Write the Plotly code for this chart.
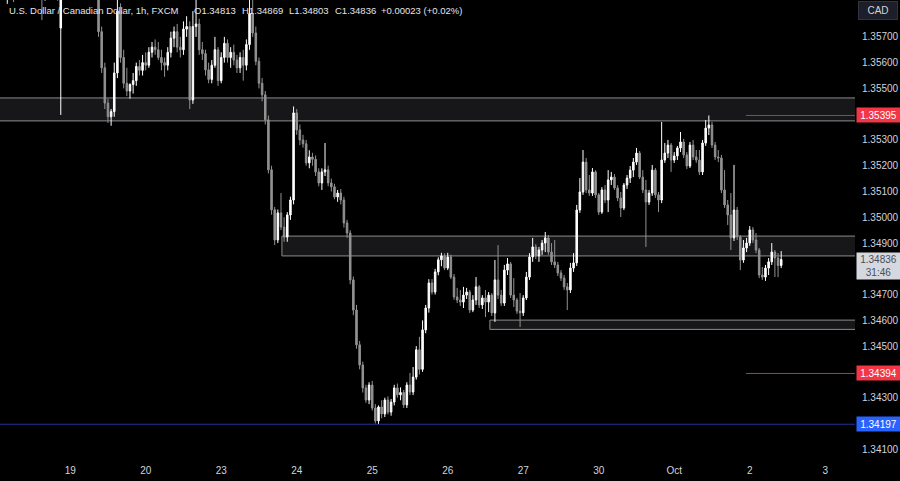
import plotly.graph_objects as go

# ---------------- data (USD/CAD, 1h, FXCM) ----------------
day_labels = ['19', '20', '23', '24', '25', '26', '27', '30', 'Oct', '2', '3']
day_start_bar = [22, 46, 70, 94, 118, 142, 166, 190, 214, 238, 262]

opens = [
    1.35885, 1.35900, 1.35870, 1.35880, 1.35930, 1.35870, 1.35900, 1.35960, 1.35920, 1.35890,
    1.35920, 1.35940, 1.35900, 1.35880, 1.35860, 1.35900, 1.35920, 1.35890, 1.35870, 1.35734,
    1.35880, 1.35930, 1.35960, 1.35990, 1.35970, 1.35950, 1.35980, 1.35960, 1.35920, 1.35940,
    1.35910, 1.35880, 1.35720, 1.35580, 1.35443, 1.35390, 1.35410, 1.35560, 1.35800, 1.35620,
    1.35520, 1.35490, 1.35515, 1.35530, 1.35585, 1.35570, 1.35600, 1.35590, 1.35640, 1.35660,
    1.35650, 1.35620, 1.35600, 1.35590, 1.35640, 1.35695, 1.35720, 1.35660, 1.35650, 1.35730,
    1.35740, 1.35455, 1.35740, 1.35750, 1.35650, 1.35635, 1.35572, 1.35535, 1.35590, 1.35650,
    1.35530, 1.35620, 1.35675, 1.35620, 1.35640, 1.35610, 1.35580, 1.35620, 1.35590, 1.35670,
    1.35790, 1.35715, 1.35605, 1.35520, 1.35475, 1.35378, 1.35184, 1.35029, 1.34912, 1.35017,
    1.34962, 1.34923, 1.35009, 1.35067, 1.35405, 1.35339, 1.35300, 1.35285, 1.35211, 1.35234,
    1.35225, 1.35176, 1.35133, 1.35176, 1.35184, 1.35133, 1.35118, 1.35079, 1.35094, 1.35067,
    1.34978, 1.34939, 1.34757, 1.34640, 1.34505, 1.34427, 1.34338, 1.34291, 1.34349, 1.34260,
    1.34210, 1.34264, 1.34237, 1.34291, 1.34244, 1.34283, 1.34338, 1.34311, 1.34320, 1.34272,
    1.34349, 1.34322, 1.34380, 1.34486, 1.34410, 1.34563, 1.34648, 1.34745, 1.34710, 1.34788,
    1.34835, 1.34850, 1.34803, 1.34846, 1.34768, 1.34691, 1.34679, 1.34671, 1.34698, 1.34710,
    1.34640, 1.34679, 1.34730, 1.34660, 1.34687, 1.34671, 1.34698, 1.34629, 1.34757, 1.34698,
    1.34667, 1.34795, 1.34819, 1.34698, 1.34679, 1.34636, 1.34629, 1.34687, 1.34768, 1.34846,
    1.34885, 1.34850, 1.34873, 1.34900, 1.34920, 1.34865, 1.34827, 1.34815, 1.34784, 1.34764,
    1.34730, 1.34718, 1.34803, 1.34823, 1.35028, 1.35098, 1.35214, 1.35106, 1.35094, 1.35176,
    1.35087, 1.35020, 1.35106, 1.35067, 1.35145, 1.35156, 1.35114, 1.35075, 1.35036, 1.35125,
    1.35152, 1.35183, 1.35214, 1.35249, 1.35156, 1.35106, 1.35059, 1.35094, 1.35183, 1.35087,
    1.35067, 1.35222, 1.35249, 1.35280, 1.35222, 1.35238, 1.35269, 1.35292, 1.35242, 1.35199,
    1.35280, 1.35234, 1.35222, 1.35176, 1.35288, 1.35346, 1.35358, 1.35280, 1.35234, 1.35230,
    1.35106, 1.35048, 1.35009, 1.34920, 1.35028, 1.34924, 1.34834, 1.34881, 1.34900, 1.34951,
    1.34912, 1.34873, 1.34776, 1.34768, 1.34803, 1.34827, 1.34865, 1.34842, 1.34813,
]

highs = [
    1.35930, 1.35940, 1.35900, 1.35950, 1.35960, 1.35920, 1.35980, 1.36000, 1.35950, 1.35940,
    1.35970, 1.35960, 1.35930, 1.35910, 1.35920, 1.35950, 1.35960, 1.35920, 1.35900, 1.35910,
    1.35950, 1.35990, 1.36020, 1.36030, 1.36000, 1.35990, 1.36010, 1.35990, 1.35960, 1.35970,
    1.35940, 1.35900, 1.35740, 1.35600, 1.35460, 1.35420, 1.35600, 1.35870, 1.35830, 1.35650,
    1.35580, 1.35520, 1.35560, 1.35600, 1.35610, 1.35630, 1.35640, 1.35660, 1.35680, 1.35690,
    1.35680, 1.35650, 1.35620, 1.35660, 1.35720, 1.35740, 1.35750, 1.35700, 1.35760, 1.35780,
    1.35760, 1.35800, 1.35870, 1.35770, 1.35680, 1.35650, 1.35600, 1.35610, 1.35700, 1.35660,
    1.35640, 1.35700, 1.35690, 1.35660, 1.35670, 1.35630, 1.35640, 1.35650, 1.35690, 1.35870,
    1.35880, 1.35740, 1.35620, 1.35540, 1.35490, 1.35395, 1.35200, 1.35040, 1.35030, 1.35094,
    1.35000, 1.35020, 1.35080, 1.35430, 1.35420, 1.35360, 1.35320, 1.35300, 1.35260, 1.35250,
    1.35240, 1.35190, 1.35190, 1.35288, 1.35200, 1.35150, 1.35130, 1.35106, 1.35110, 1.35080,
    1.34990, 1.34950, 1.34770, 1.34660, 1.34520, 1.34440, 1.34350, 1.34360, 1.34365, 1.34275,
    1.34270, 1.34290, 1.34300, 1.34305, 1.34295, 1.34350, 1.34355, 1.34340, 1.34330, 1.34360,
    1.34396, 1.34419, 1.34500, 1.34536, 1.34600, 1.34660, 1.34760, 1.34760, 1.34800, 1.34845,
    1.34862, 1.34860, 1.34862, 1.34855, 1.34780, 1.34726, 1.34718, 1.34730, 1.34726, 1.34718,
    1.34698, 1.34768, 1.34737, 1.34698, 1.34718, 1.34710, 1.34706, 1.34834, 1.34892, 1.34718,
    1.34815, 1.34842, 1.34827, 1.34764, 1.34687, 1.34706, 1.34698, 1.34788, 1.34861, 1.34920,
    1.34896, 1.34885, 1.34912, 1.34943, 1.34931, 1.34900, 1.34912, 1.34827, 1.34795, 1.34776,
    1.34745, 1.34823, 1.34861, 1.35048, 1.35152, 1.35261, 1.35230, 1.35164, 1.35191, 1.35183,
    1.35094, 1.35117, 1.35125, 1.35183, 1.35176, 1.35168, 1.35125, 1.35098, 1.35133, 1.35164,
    1.35199, 1.35230, 1.35269, 1.35257, 1.35183, 1.35145, 1.35106, 1.35203, 1.35191, 1.35098,
    1.35370, 1.35288, 1.35300, 1.35288, 1.35253, 1.35277, 1.35331, 1.35304, 1.35253, 1.35292,
    1.35300, 1.35261, 1.35261, 1.35300, 1.35377, 1.35395, 1.35370, 1.35292, 1.35261, 1.35242,
    1.35183, 1.35067, 1.35094, 1.35203, 1.35040, 1.34931, 1.34912, 1.34920, 1.34966, 1.34962,
    1.34939, 1.34881, 1.34807, 1.34815, 1.34842, 1.34900, 1.34873, 1.34861, 1.34869,
]

lows = [
    1.35850, 1.35860, 1.35828, 1.35860, 1.35835, 1.35850, 1.35880, 1.35900, 1.35870, 1.35860,
    1.35890, 1.35880, 1.35850, 1.35765, 1.35840, 1.35870, 1.35880, 1.35850, 1.35840, 1.35397,
    1.35860, 1.35900, 1.35920, 1.35950, 1.35930, 1.35910, 1.35940, 1.35900, 1.35880, 1.35890,
    1.35860, 1.35700, 1.35560, 1.35420, 1.35366, 1.35355, 1.35390, 1.35540, 1.35600, 1.35500,
    1.35470, 1.35460, 1.35480, 1.35510, 1.35550, 1.35550, 1.35570, 1.35580, 1.35620, 1.35630,
    1.35610, 1.35570, 1.35545, 1.35570, 1.35620, 1.35660, 1.35640, 1.35620, 1.35630, 1.35700,
    1.35420, 1.35440, 1.35700, 1.35630, 1.35610, 1.35550, 1.35520, 1.35520, 1.35580, 1.35510,
    1.35520, 1.35600, 1.35600, 1.35580, 1.35590, 1.35560, 1.35560, 1.35530, 1.35570, 1.35650,
    1.35700, 1.35590, 1.35500, 1.35450, 1.35360, 1.35170, 1.35010, 1.34892, 1.34900, 1.34950,
    1.34905, 1.34905, 1.34990, 1.35050, 1.35320, 1.35280, 1.35270, 1.35200, 1.35190, 1.35200,
    1.35160, 1.35120, 1.35106, 1.35160, 1.35120, 1.35100, 1.35070, 1.35060, 1.35050, 1.34960,
    1.34920, 1.34740, 1.34620, 1.34490, 1.34410, 1.34320, 1.34280, 1.34275, 1.34250, 1.34200,
    1.34197, 1.34220, 1.34225, 1.34235, 1.34230, 1.34270, 1.34300, 1.34290, 1.34260, 1.34260,
    1.34310, 1.34310, 1.34370, 1.34390, 1.34400, 1.34550, 1.34630, 1.34700, 1.34700, 1.34775,
    1.34810, 1.34795, 1.34795, 1.34760, 1.34680, 1.34667, 1.34656, 1.34648, 1.34683, 1.34629,
    1.34632, 1.34660, 1.34648, 1.34644, 1.34613, 1.34632, 1.34617, 1.34594, 1.34683, 1.34656,
    1.34656, 1.34776, 1.34687, 1.34652, 1.34625, 1.34574, 1.34617, 1.34679, 1.34757, 1.34827,
    1.34838, 1.34827, 1.34854, 1.34865, 1.34854, 1.34815, 1.34803, 1.34772, 1.34753, 1.34718,
    1.34640, 1.34706, 1.34788, 1.34811, 1.35017, 1.35087, 1.35094, 1.35083, 1.35083, 1.35075,
    1.35009, 1.35013, 1.35055, 1.35020, 1.35125, 1.35106, 1.35063, 1.35001, 1.35028, 1.35110,
    1.35133, 1.35156, 1.35203, 1.35148, 1.35094, 1.34885, 1.35048, 1.35083, 1.35075, 1.35020,
    1.35055, 1.35211, 1.35230, 1.35176, 1.35211, 1.35222, 1.35253, 1.35230, 1.35187, 1.35191,
    1.35222, 1.35211, 1.35164, 1.35164, 1.35277, 1.35319, 1.35269, 1.35222, 1.35214, 1.35094,
    1.35036, 1.34970, 1.34873, 1.34908, 1.34912, 1.34795, 1.34823, 1.34865, 1.34889, 1.34900,
    1.34861, 1.34764, 1.34757, 1.34753, 1.34776, 1.34815, 1.34768, 1.34768, 1.34803,
]

closes = [
    1.35900, 1.35870, 1.35880, 1.35930, 1.35870, 1.35900, 1.35960, 1.35920, 1.35890, 1.35920,
    1.35940, 1.35900, 1.35880, 1.35860, 1.35900, 1.35920, 1.35890, 1.35870, 1.35860, 1.35880,
    1.35930, 1.35960, 1.35990, 1.35970, 1.35950, 1.35980, 1.35960, 1.35920, 1.35940, 1.35910,
    1.35880, 1.35720, 1.35580, 1.35443, 1.35390, 1.35410, 1.35560, 1.35800, 1.35620, 1.35520,
    1.35490, 1.35515, 1.35530, 1.35585, 1.35570, 1.35600, 1.35590, 1.35640, 1.35660, 1.35650,
    1.35620, 1.35600, 1.35590, 1.35640, 1.35695, 1.35720, 1.35660, 1.35650, 1.35730, 1.35740,
    1.35455, 1.35740, 1.35750, 1.35650, 1.35635, 1.35572, 1.35535, 1.35590, 1.35650, 1.35530,
    1.35620, 1.35675, 1.35620, 1.35640, 1.35610, 1.35580, 1.35620, 1.35590, 1.35670, 1.35790,
    1.35715, 1.35605, 1.35520, 1.35475, 1.35378, 1.35184, 1.35029, 1.34912, 1.35017, 1.34962,
    1.34923, 1.35009, 1.35067, 1.35405, 1.35339, 1.35300, 1.35285, 1.35211, 1.35234, 1.35225,
    1.35176, 1.35133, 1.35176, 1.35184, 1.35133, 1.35118, 1.35079, 1.35094, 1.35067, 1.34978,
    1.34939, 1.34757, 1.34640, 1.34505, 1.34427, 1.34338, 1.34291, 1.34349, 1.34260, 1.34210,
    1.34264, 1.34237, 1.34291, 1.34244, 1.34283, 1.34338, 1.34311, 1.34320, 1.34272, 1.34349,
    1.34322, 1.34380, 1.34486, 1.34410, 1.34563, 1.34648, 1.34745, 1.34710, 1.34788, 1.34835,
    1.34850, 1.34803, 1.34846, 1.34768, 1.34691, 1.34679, 1.34671, 1.34698, 1.34710, 1.34640,
    1.34679, 1.34730, 1.34660, 1.34687, 1.34671, 1.34698, 1.34629, 1.34757, 1.34698, 1.34667,
    1.34795, 1.34819, 1.34698, 1.34679, 1.34636, 1.34629, 1.34687, 1.34768, 1.34846, 1.34885,
    1.34850, 1.34873, 1.34900, 1.34920, 1.34865, 1.34827, 1.34815, 1.34784, 1.34764, 1.34730,
    1.34718, 1.34803, 1.34823, 1.35028, 1.35098, 1.35214, 1.35106, 1.35094, 1.35176, 1.35087,
    1.35020, 1.35106, 1.35067, 1.35145, 1.35156, 1.35114, 1.35075, 1.35036, 1.35125, 1.35152,
    1.35183, 1.35214, 1.35249, 1.35156, 1.35106, 1.35059, 1.35094, 1.35183, 1.35087, 1.35067,
    1.35222, 1.35249, 1.35280, 1.35222, 1.35238, 1.35269, 1.35292, 1.35242, 1.35199, 1.35280,
    1.35234, 1.35222, 1.35176, 1.35288, 1.35346, 1.35358, 1.35280, 1.35234, 1.35230, 1.35106,
    1.35048, 1.35009, 1.34920, 1.35028, 1.34924, 1.34834, 1.34881, 1.34900, 1.34951, 1.34912,
    1.34873, 1.34776, 1.34768, 1.34803, 1.34827, 1.34865, 1.34842, 1.34813, 1.34836,
]

# supply / demand zones: start bar, top, bottom
zone_start_bar = [-5, 89.3, 155.4]
zone_top = [1.35463, 1.34927, 1.34601]
zone_bottom = [1.35374, 1.34850, 1.34565]

# horizontal levels
red_levels = [1.35395, 1.34394]
red_level_start_bar = 236.8
blue_level = 1.34197
last_price = 1.34836
countdown = '31:46'

y_tick_vals = [1.341, 1.343, 1.345, 1.346, 1.347, 1.349, 1.350, 1.351, 1.352, 1.353, 1.355, 1.356, 1.357]

legend_parts = ['U.S. Dollar / Canadian Dollar, 1h, FXCM', 'O1.34813', 'H1.34869',
                'L1.34803', 'C1.34836', '+0.00023 (+0.02%)']
legend_px = [7, 192, 240, 287, 333, 379]

# ---------------- figure ----------------
W, H = 900, 481
ML, MR, MT, MB = 0, 45, 0, 23
PW = W - ML - MR
PH = H - MT - MB
FONT = 'Liberation Sans, Arial, sans-serif'
TXT = '#d1d4dc'

bars = list(range(len(closes)))

fig = go.Figure(go.Candlestick(
    x=bars, open=opens, high=highs, low=lows, close=closes,
    increasing=dict(line=dict(color='#ffffff', width=1), fillcolor='#ffffff'),
    decreasing=dict(line=dict(color='#929292', width=1), fillcolor='#929292'),
    whiskerwidth=0, hoverinfo='skip', showlegend=False,
))

shapes = []
for x0, t, b in zip(zone_start_bar, zone_top, zone_bottom):
    shapes.append(dict(type='rect', xref='x', yref='y', x0=x0, x1=400, y0=b, y1=t,
                       fillcolor='#171719', line=dict(color='#8c8c8c', width=1), layer='below'))
for lv in red_levels:
    shapes.append(dict(type='line', xref='x', yref='y', x0=red_level_start_bar, x1=400, y0=lv, y1=lv,
                       line=dict(color='#d12c3a', width=1)))
shapes.append(dict(type='line', xref='x', yref='y', x0=-5, x1=400, y0=blue_level, y1=blue_level,
                   line=dict(color='#22339a', width=1)))

annotations = []
for txt, px in zip(legend_parts, legend_px):
    annotations.append(dict(text=txt, xref='paper', yref='paper', x=px / PW, y=1 - 10 / PH,
                            xanchor='left', yanchor='middle', showarrow=False,
                            font=dict(family=FONT, size=9.5, color='#e3e5ea')))

def price_label(y, text, bg, fg, height=14, yanchor='middle', yshift=0):
    return dict(text=text, xref='paper', yref='y', x=1, y=y, xanchor='left', yanchor=yanchor,
                xshift=1, yshift=yshift, showarrow=False, bgcolor=bg, width=43, height=height,
                align='center', valign='middle', borderpad=0,
                font=dict(family=FONT, size=10, color=fg))

for lv in red_levels:
    annotations.append(price_label(lv, f'{lv:.5f}', '#f23645', '#ffffff'))
annotations.append(price_label(blue_level, f'{blue_level:.5f}', '#2962ff', '#ffffff'))
annotations.append(price_label(last_price, f'{last_price:.5f}<br>{countdown}', '#d5d8df', '#4a4e58',
                               height=26, yanchor='top', yshift=8))
annotations.append(dict(text='CAD', xref='paper', yref='paper', x=1, y=1 - 1 / PH, xanchor='left',
                        yanchor='top', xshift=3, showarrow=False, bgcolor='#1c1f29',
                        bordercolor='#30343f', borderwidth=1, width=38, height=17, borderpad=0,
                        font=dict(family=FONT, size=10, color=TXT)))

fig.update_layout(
    width=W, height=H, margin=dict(l=ML, r=MR, t=MT, b=MB),
    paper_bgcolor='#000000', plot_bgcolor='#000000',
    shapes=shapes, annotations=annotations, showlegend=False, dragmode=False,
    xaxis=dict(range=[-0.318, 271.46], tickvals=day_start_bar, ticktext=day_labels,
               showgrid=False, zeroline=False, showline=False, ticks='', ticklabelstandoff=5,
               tickfont=dict(family=FONT, size=10, color=TXT), rangeslider=dict(visible=False),
               fixedrange=True),
    yaxis=dict(range=[1.34066, 1.35843], side='right', tickvals=y_tick_vals,
               ticktext=[f'{v:.5f}' for v in y_tick_vals], showgrid=False, zeroline=False,
               showline=False, ticks='', ticklabelstandoff=6,
               tickfont=dict(family=FONT, size=10, color=TXT), fixedrange=True),
)

fig.write_html('out.html', config=dict(displayModeBar=False, staticPlot=True),
               post_script="document.body.style.margin='0';document.body.style.background='#000';")
